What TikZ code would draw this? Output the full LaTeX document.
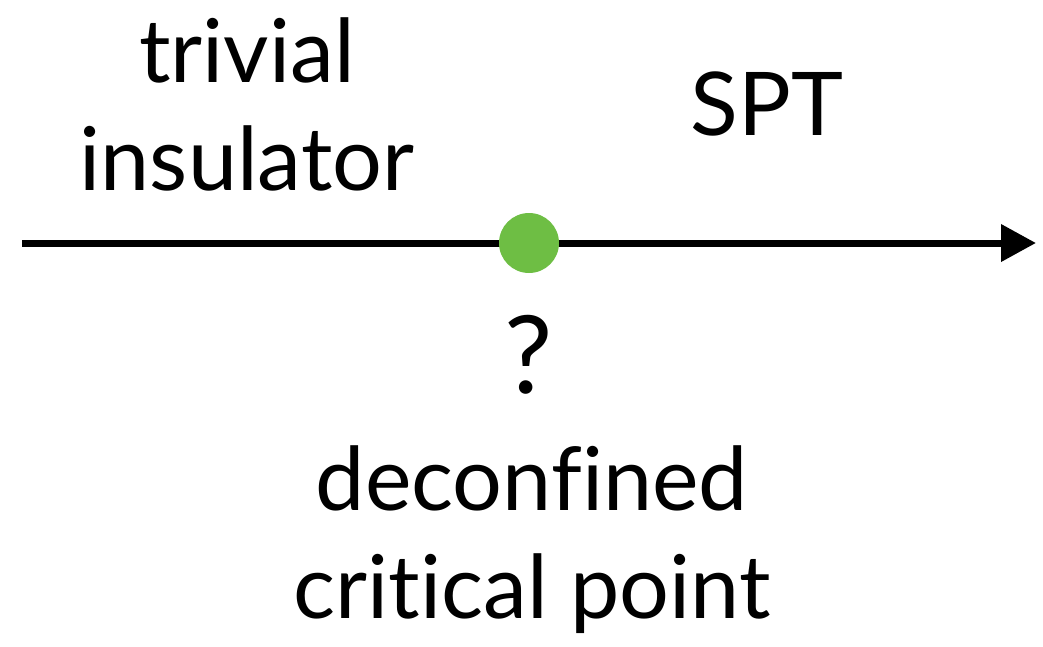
\documentclass[tikz,border=0pt]{standalone}
\usepackage{fontspec}
\setmainfont[Ligatures={NoCommon}]{Lato}
\usetikzlibrary{arrows.meta}
\definecolor{dotgreen}{RGB}{110,190,68}
\begin{document}
\begin{tikzpicture}[x=1pt,y=-1pt,
  lbl/.style={font=\fontsize{88}{108}\selectfont, align=center, inner sep=0pt, anchor=base},
  axis/.style={line width=7pt, -{Triangle[length=35pt,width=36pt]}}]
\useasboundingbox (0,0) rectangle (1043,646);
\coordinate (start) at (22,243);
\coordinate (end) at (1036,243);
\draw[axis] (start) -- (end);
\node[circle, fill=dotgreen, minimum size=60pt, inner sep=0pt] (dot) at (529,243) {};
\node[lbl] (triv) at (247,190) {trivial\\insulator};
\node[lbl] (spt) at (767,135) {SPT};
\node[lbl, font=\fontsize{108}{110}\selectfont] (q) at (529,393) {?};
\node[lbl] (dcp) at (532,618) {deconfined\\critical point};
\end{tikzpicture}
\end{document}
